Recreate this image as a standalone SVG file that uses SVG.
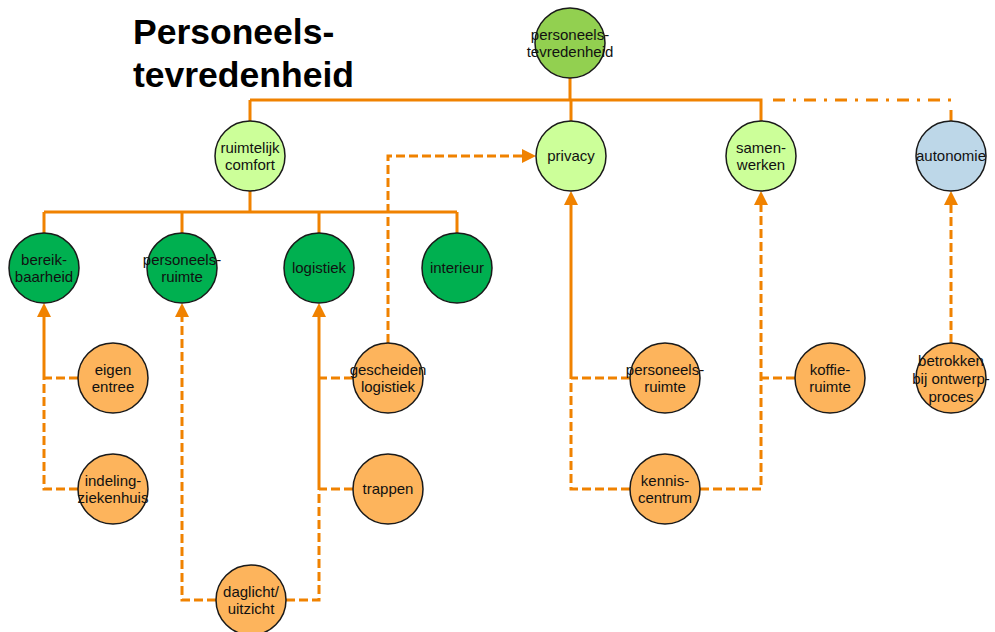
<svg xmlns="http://www.w3.org/2000/svg" width="995" height="632" viewBox="0 0 995 632">
  <style>
    .node circle { stroke: #1a1a1a; stroke-width: 1.5; }
    .root circle { fill: #92D050; }
    .main circle { fill: #CCFF99; }
    .aut circle { fill: #BDD7E8; }
    .sub circle { fill: #00B050; }
    .factor circle { fill: #FDB45C; }
    .node text { font-family: "Liberation Sans", Arial, sans-serif; font-size: 15px; fill: #111; text-anchor: middle; }
    .title { font-family: "Liberation Sans", Arial, sans-serif; font-size: 35.5px; font-weight: bold; fill: #000; }
    .tree { fill: none; stroke: #F08200; stroke-width: 3; }
    .dash { fill: none; stroke: #F08200; stroke-width: 3; stroke-dasharray: 9 4; }
    .dashdot { fill: none; stroke: #F08200; stroke-width: 3; stroke-dasharray: 12 8 3 8; stroke-dashoffset: 23; }
  </style>
  <defs>
    <marker id="arrow" viewBox="0 0 14 14" refX="8" refY="7" markerWidth="14" markerHeight="14" markerUnits="userSpaceOnUse" orient="auto">
      <path d="M0,0 L14,7 L0,14 z" fill="#F08200"/>
    </marker>
  </defs>

  <text class="title" x="133" y="44">Personeels-</text>
  <text class="title" x="133" y="87">tevredenheid</text>

  <g id="connectors">
    <!-- hierarchy -->
    <path class="tree" d="M570,78 V100 M250,100 H762.5 M250,100 V121 M571,100 V121 M761,100 V121"/>
    <path class="dashdot" d="M765,100 H953"/>
    <path class="tree" d="M951,110 V121"/>
    <path class="tree" d="M250,191 V212 M44,212 H457 M44,212 V233 M182,212 V233 M319,212 V233 M457,212 V233"/>

    <!-- bereikbaarheid -->
    <path class="dash" d="M78,378 H44"/>
    <path class="dash" d="M78,489 H44 V378"/>
    <path class="tree" d="M44,378 V309" marker-end="url(#arrow)"/>

    <!-- personeelsruimte -->
    <path class="dash" d="M216,600 H182 V309" marker-end="url(#arrow)"/>

    <!-- logistiek -->
    <path class="dash" d="M286,600 H319 V489"/>
    <path class="dash" d="M353,378 H319"/>
    <path class="dash" d="M353,489 H319"/>
    <path class="tree" d="M319,489 V309" marker-end="url(#arrow)"/>

    <!-- gescheiden logistiek to privacy -->
    <path class="dash" d="M388,343 V156 H530" marker-end="url(#arrow)"/>

    <!-- privacy -->
    <path class="dash" d="M630,378 H571"/>
    <path class="dash" d="M630,489 H571 V378"/>
    <path class="tree" d="M571,378 V197" marker-end="url(#arrow)"/>

    <!-- samenwerken -->
    <path class="dash" d="M795,378 H761"/>
    <path class="dash" d="M700,489 H761 V197" marker-end="url(#arrow)"/>

    <!-- autonomie -->
    <path class="dash" d="M951,343 V197" marker-end="url(#arrow)"/>
  </g>

  <g id="personeelstevredenheid" class="node root">
    <circle cx="570" cy="43" r="35"/>
    <text x="570" y="39.5">personeels-</text>
    <text x="570" y="57">tevredenheid</text>
  </g>

  <g id="ruimtelijk-comfort" class="node main">
    <circle cx="250" cy="156" r="35"/>
    <text x="250" y="152.5">ruimtelijk</text>
    <text x="250" y="170">comfort</text>
  </g>
  <g id="privacy" class="node main">
    <circle cx="571" cy="156" r="35"/>
    <text x="571" y="161">privacy</text>
  </g>
  <g id="samenwerken" class="node main">
    <circle cx="761" cy="156" r="35"/>
    <text x="761" y="152.5">samen-</text>
    <text x="761" y="170">werken</text>
  </g>
  <g id="autonomie" class="node aut">
    <circle cx="951" cy="156" r="35"/>
    <text x="951" y="161">autonomie</text>
  </g>

  <g id="bereikbaarheid" class="node sub">
    <circle cx="44" cy="268" r="35"/>
    <text x="44" y="264.5">bereik-</text>
    <text x="44" y="282">baarheid</text>
  </g>
  <g id="personeelsruimte" class="node sub">
    <circle cx="182" cy="268" r="35"/>
    <text x="182" y="264.5">personeels-</text>
    <text x="182" y="282">ruimte</text>
  </g>
  <g id="logistiek" class="node sub">
    <circle cx="319" cy="268" r="35"/>
    <text x="319" y="273">logistiek</text>
  </g>
  <g id="interieur" class="node sub">
    <circle cx="457" cy="268" r="35"/>
    <text x="457" y="273">interieur</text>
  </g>

  <g id="eigen-entree" class="node factor">
    <circle cx="113" cy="378" r="35"/>
    <text x="113" y="374.5">eigen</text>
    <text x="113" y="392">entree</text>
  </g>
  <g id="indeling-ziekenhuis" class="node factor">
    <circle cx="113" cy="489" r="35"/>
    <text x="113" y="485.5">indeling-</text>
    <text x="113" y="503">ziekenhuis</text>
  </g>
  <g id="daglicht-uitzicht" class="node factor">
    <circle cx="251" cy="600" r="35"/>
    <text x="251" y="596.5">daglicht/</text>
    <text x="251" y="614">uitzicht</text>
  </g>
  <g id="gescheiden-logistiek" class="node factor">
    <circle cx="388" cy="378" r="35"/>
    <text x="388" y="374.5">gescheiden</text>
    <text x="388" y="392">logistiek</text>
  </g>
  <g id="trappen" class="node factor">
    <circle cx="388" cy="489" r="35"/>
    <text x="388" y="494">trappen</text>
  </g>
  <g id="personeelsruimte-privacy" class="node factor">
    <circle cx="665" cy="378" r="35"/>
    <text x="665" y="374.5">personeels-</text>
    <text x="665" y="392">ruimte</text>
  </g>
  <g id="kenniscentrum" class="node factor">
    <circle cx="665" cy="489" r="35"/>
    <text x="665" y="485.5">kennis-</text>
    <text x="665" y="503">centrum</text>
  </g>
  <g id="koffieruimte" class="node factor">
    <circle cx="830" cy="378" r="35"/>
    <text x="830" y="374.5">koffie-</text>
    <text x="830" y="392">ruimte</text>
  </g>
  <g id="betrokken-ontwerpproces" class="node factor">
    <circle cx="951" cy="378" r="35"/>
    <text x="951" y="365.5">betrokken</text>
    <text x="951" y="383.5">bij ontwerp-</text>
    <text x="951" y="401.5">proces</text>
  </g>
</svg>
